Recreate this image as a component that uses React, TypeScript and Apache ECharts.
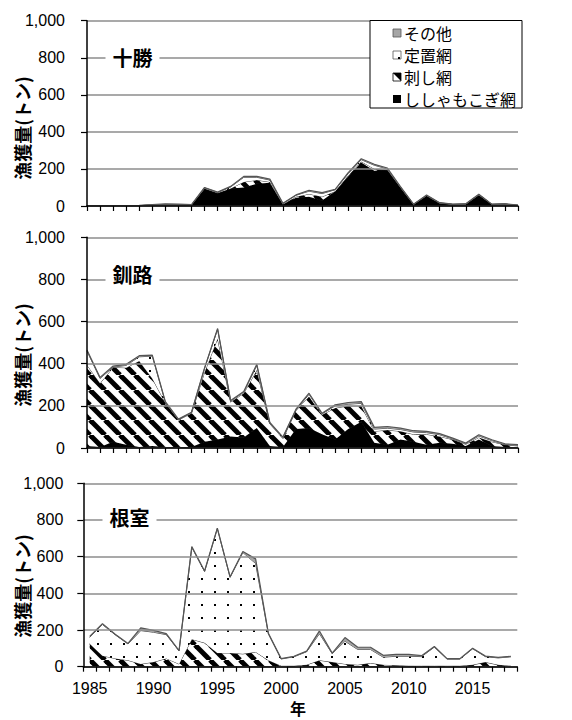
import React, { useEffect, useRef } from "react";
import * as echarts from "echarts";

const years = ["1985","1986","1987","1988","1989","1990","1991","1992","1993","1994","1995","1996","1997","1998","1999","2000","2001","2002","2003","2004","2005","2006","2007","2008","2009","2010","2011","2012","2013","2014","2015","2016","2017","2018"];

const yTicks = [0, 200, 400, 600, 800, 1000];

// 十勝
const tokachiShishamo = [1,1,1,1,2,5,8,7,5,95,70,95,100,120,125,10,45,50,30,80,160,235,190,195,100,8,55,15,8,10,60,8,10,3];
const tokachiSashi    = [0,0,0,0,0,0,0,0,0,0,0,0,30,20,5,0,5,15,20,0,5,5,10,0,0,0,0,0,0,0,0,0,0,0];
const tokachiTeichi   = [0,0,0,0,0,1,1,1,1,3,3,8,25,15,10,3,8,15,17,8,10,10,20,5,3,1,2,2,1,1,2,1,1,1];
const tokachiSonota   = [1,1,1,1,1,2,2,2,1,2,2,3,5,5,5,2,2,5,5,2,5,5,5,5,2,1,2,1,1,1,2,1,1,1];

// 釧路
const kushiroShishamo = [10,5,30,15,5,10,5,5,5,30,40,55,50,95,10,5,90,95,65,40,90,125,25,15,40,30,15,25,20,10,40,10,5,3];
const kushiroSashi    = [384,302,353,366,408,320,210,128,160,330,480,163,210,275,105,40,88,150,93,150,110,75,55,70,40,35,50,30,20,8,10,20,10,7];
const kushiroTeichi   = [66,23,1,11,20,106,2,2,3,17,44,4,5,22,3,5,3,10,4,10,8,12,10,9,8,11,8,8,3,3,7,5,2,3];
const kushiroSonota   = [5,5,5,5,5,5,3,2,2,3,3,3,3,5,3,2,3,5,3,5,8,8,8,8,6,6,6,5,4,3,6,4,3,3];

// 根室
const nemuroShishamo = [0,0,0,0,0,0,0,0,2,2,2,2,2,2,2,0,0,0,2,2,2,2,2,2,2,2,0,0,0,0,0,5,0,0];
const nemuroSashi    = [125,60,45,35,15,25,45,15,148,128,73,73,68,78,33,5,5,10,33,23,13,8,18,8,6,3,5,5,5,5,10,20,10,5];
const nemuroTeichi   = [35,170,129,89,182,163,130,71,500,389,678,412,553,483,144,37,49,72,145,46,124,84,74,42,49,52,50,102,36,36,88,30,38,49];
const nemuroSonota   = [5,5,3,3,15,10,5,2,5,3,3,3,5,25,3,2,3,3,15,3,20,12,12,10,10,10,5,3,3,3,3,3,3,3];

const seriesNames = ["ししゃもこぎ網", "刺し網", "定置網", "その他"];
const legendOrder = ["その他", "定置網", "刺し網", "ししゃもこぎ網"];
const panelTitles = ["十勝", "釧路", "根室"];

const NUM_FONT = '"Liberation Sans", Arial, sans-serif';
const JP_FONT = '"Noto Sans CJK JP", "Noto Sans CJK SC", sans-serif';

function makeStripe(): HTMLCanvasElement {
  const s = 15;
  const c = document.createElement("canvas");
  c.width = s;
  c.height = s;
  const g = c.getContext("2d")!;
  g.fillStyle = "#fff";
  g.fillRect(0, 0, s, s);
  g.strokeStyle = "#000";
  g.lineWidth = 5;
  for (const k of [-s, 0, s]) {
    g.beginPath();
    g.moveTo(k, 0);
    g.lineTo(k + s, s);
    g.stroke();
  }
  return c;
}

function makeDots(): HTMLCanvasElement {
  const s = 13;
  const c = document.createElement("canvas");
  c.width = s;
  c.height = s;
  const g = c.getContext("2d")!;
  g.fillStyle = "#fff";
  g.fillRect(0, 0, s, s);
  g.fillStyle = "#000";
  g.fillRect(6, 6, 2, 2);
  return c;
}

export default function App() {
  const ref = useRef<HTMLDivElement>(null);

  useEffect(() => {
    if (!ref.current) return;
    const chart = echarts.init(ref.current, undefined, { renderer: "svg" });

    const stripe = { image: makeStripe(), repeat: "repeat", imageWidth: 15, imageHeight: 15 } as any;
    const dots = { image: makeDots(), repeat: "repeat", imageWidth: 13, imageHeight: 13 } as any;

    const panels = [
      [tokachiShishamo, tokachiSashi, tokachiTeichi, tokachiSonota],
      [kushiroShishamo, kushiroSashi, kushiroTeichi, kushiroSonota],
      [nemuroShishamo, nemuroSashi, nemuroTeichi, nemuroSonota],
    ];

    const grids = [
      { left: 87, top: 20.7, width: 431, height: 185.3 },
      { left: 87, top: 237.3, width: 431, height: 210.7 },
      { left: 83.3, top: 483.3, width: 434, height: 183.4 },
    ];

    const fills = ["#000", stripe, dots, "#a6a6a6"];
    const lines = ["#000", "#333", "#404040", "#555"];
    const widths = [1, 1, 1, 1.2];
    const solids = ["#000", "#555", "#fff", "#a6a6a6"];

    const series: any[] = [];
    panels.forEach((arrs, p) => {
      arrs.forEach((d, k) => {
        series.push({
          type: "line",
          name: seriesNames[k],
          xAxisIndex: p,
          yAxisIndex: p,
          stack: "p" + p,
          data: d,
          symbol: "none",
          showSymbol: false,
          lineStyle: { color: lines[k], width: widths[k] },
          itemStyle: { color: solids[k] },
          areaStyle: { color: fills[k], opacity: 1 },
          z: 2 + k,
        });
      });
    });

    const xAxes = grids.map((_, p) => ({
      type: "category",
      gridIndex: p,
      data: years,
      boundaryGap: p === 2,
      axisLine: { show: true, onZero: false, lineStyle: { color: "#000", width: 1.5 } },
      axisTick: { show: true, interval: 0, length: 5, lineStyle: { color: "#000", width: 1.2 } },
      axisLabel: {
        show: p === 2,
        interval: 4,
        fontSize: 16,
        color: "#000",
        fontFamily: NUM_FONT,
        margin: 14,
      },
      splitLine: { show: false },
      z: 10,
    }));

    const yAxes = grids.map((_, p) => ({
      type: "value",
      gridIndex: p,
      min: yTicks[0],
      max: yTicks[yTicks.length - 1],
      interval: 200,
      axisLine: { show: true, lineStyle: { color: "#000", width: 1.5 } },
      axisTick: { show: true, length: 6, lineStyle: { color: "#000", width: 1.2 } },
      splitLine: { show: true, lineStyle: { color: "#8c8c8c", width: 1.5 } },
      axisLabel: {
        fontSize: 16,
        color: "#000",
        fontFamily: NUM_FONT,
        margin: p === 2 ? 20 : 22,
        formatter: (v: number) => v.toLocaleString("en-US"),
      },
      z: 10,
    }));

    const graphics: any[] = [];
    const titleCenters = [
      [132.5, 57],
      [132.5, 274],
      [129.5, 517],
    ];
    panelTitles.forEach((t, p) => {
      const [cx, cy] = titleCenters[p];
      graphics.push({
        type: "rect",
        z: 100,
        shape: { x: cx - 27, y: cy - 11, width: 54, height: 22 },
        style: { fill: "#fff" },
      });
      graphics.push({
        type: "text",
        z: 101,
        x: cx,
        y: cy,
        style: {
          text: t,
          fontSize: 20,
          fontWeight: "bold",
          fontFamily: JP_FONT,
          fill: "#000",
          align: "center",
          verticalAlign: "middle",
          textAlign: "center",
          textVerticalAlign: "middle",
        },
      });
    });

    const yNameCenters = [128, 355, 586];
    yNameCenters.forEach((cy) => {
      graphics.push({
        type: "text",
        z: 101,
        x: 22,
        y: cy,
        rotation: Math.PI / 2,
        style: {
          text: "漁獲量(トン)",
          fontSize: 18,
          fontWeight: "bold",
          fontFamily: JP_FONT,
          fill: "#000",
          align: "center",
          verticalAlign: "middle",
          textAlign: "center",
          textVerticalAlign: "middle",
        },
      });
    });

    graphics.push({
      type: "text",
      z: 101,
      x: 298,
      y: 708,
      style: {
        text: "年",
        fontSize: 16,
        fontWeight: "bold",
        fontFamily: JP_FONT,
        fill: "#000",
        align: "center",
        verticalAlign: "middle",
        textAlign: "center",
        textVerticalAlign: "middle",
      },
    });

    // legend
    graphics.push({
      type: "rect",
      z: 100,
      shape: { x: 370, y: 20.5, width: 152, height: 87.5 },
      style: { fill: "#fff", stroke: "#000", lineWidth: 1 },
    });
    const rowY = [33, 55, 77, 99];
    legendOrder.forEach((name, i) => {
      const cy = rowY[i];
      const sx = 393;
      if (name === "その他") {
        graphics.push({ type: "rect", z: 101, shape: { x: sx, y: cy - 4, width: 8, height: 8 }, style: { fill: "#a6a6a6", stroke: "#555", lineWidth: 0.8 } });
      } else if (name === "定置網") {
        graphics.push({ type: "rect", z: 101, shape: { x: sx, y: cy - 4, width: 8, height: 8 }, style: { fill: "#fff", stroke: "#555", lineWidth: 0.8 } });
        graphics.push({ type: "rect", z: 102, shape: { x: sx + 5, y: cy + 2, width: 2, height: 2 }, style: { fill: "#000" } });
      } else if (name === "刺し網") {
        graphics.push({ type: "rect", z: 101, shape: { x: sx, y: cy - 4, width: 8, height: 8 }, style: { fill: "#fff", stroke: "#000", lineWidth: 0.8 } });
        graphics.push({ type: "polygon", z: 102, shape: { points: [[sx, cy - 4], [sx + 8, cy - 4], [sx + 8, cy + 4]] }, style: { fill: "#000" } });
      } else {
        graphics.push({ type: "rect", z: 101, shape: { x: sx, y: cy - 4, width: 8, height: 8 }, style: { fill: "#000" } });
      }
      graphics.push({
        type: "text",
        z: 101,
        x: 404,
        y: cy,
        style: {
          text: name,
          fontSize: 16,
          fontFamily: JP_FONT,
          fill: "#000",
          align: "left",
          verticalAlign: "middle",
          textAlign: "left",
          textVerticalAlign: "middle",
        },
      });
    });

    chart.setOption({
      animation: false,
      backgroundColor: "#fff",
      grid: grids,
      xAxis: xAxes,
      yAxis: yAxes,
      series,
      graphic: graphics,
    } as any);

    return () => chart.dispose();
  }, []);

  return (
    <div
      ref={ref}
      style={{ position: "absolute", left: 0, top: 0, width: 572, height: 720 }}
    />
  );
}
